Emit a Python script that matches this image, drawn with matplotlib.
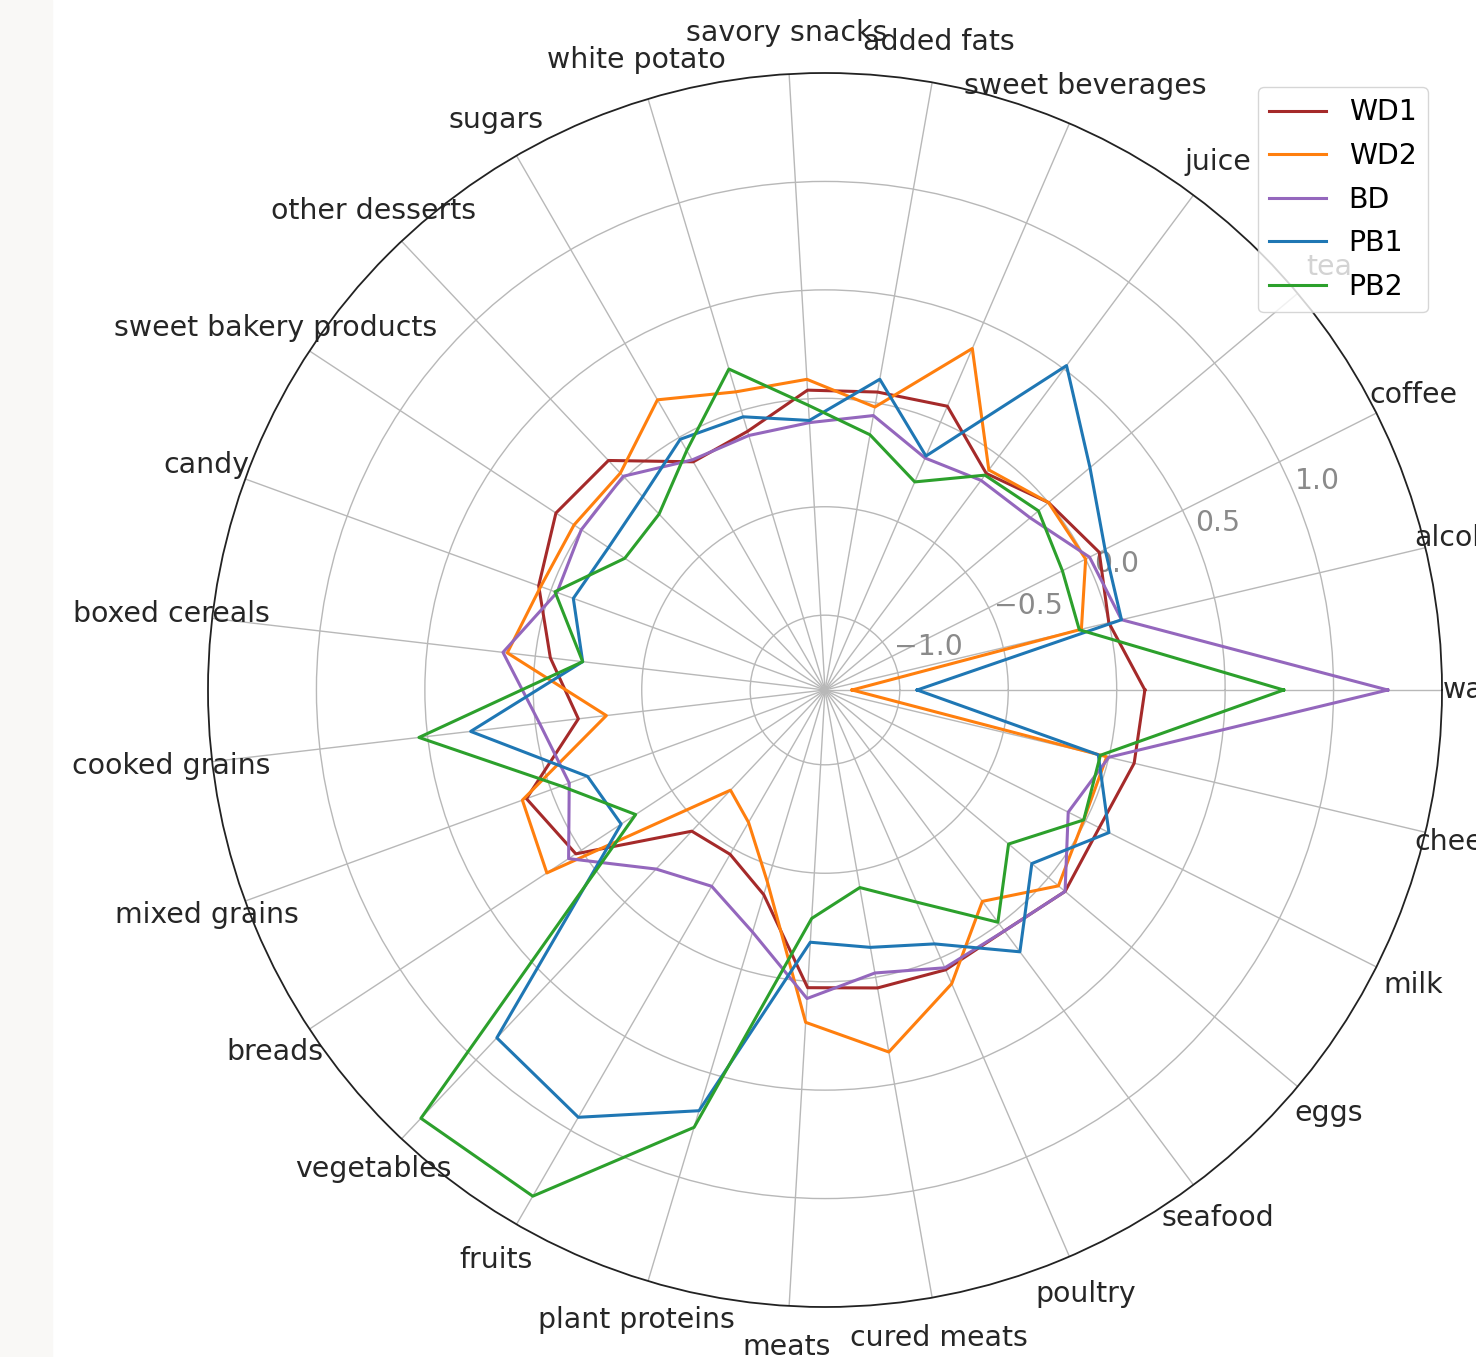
import numpy as np
from matplotlib import pyplot as plt

categories = ["water", "alcohol", "coffee", "tea", "juice", "sweet beverages",
              "added fats", "savory snacks", "white potato", "sugars",
              "other desserts", "sweet bakery products", "candy", "boxed cereals",
              "cooked grains", "mixed grains", "breads", "vegetables", "fruits",
              "plant proteins", "meats", "cured meats", "poultry", "seafood",
              "eggs", "milk", "cheese"]

wd1 = [0.13, 0.0, 0.07, 0.0, -0.10, 0.08, 0.05, 0.04, -0.10, -0.13,
       0.11, 0.14, 0.06, -0.07, -0.20, 0.12, 0.03, -0.45, -0.47,
       -0.36, 0.03, 0.05, 0.06, 0.04, 0.10, 0.07, 0.12]
wd2 = [-1.22, -0.13, 0.0, 0.0, -0.08, 0.37, -0.02, 0.09, 0.09, 0.20,
       0.03, 0.04, 0.05, 0.13, -0.33, 0.14, 0.19, -0.71, -0.64,
       -0.42, 0.19, 0.35, 0.13, -0.13, 0.06, -0.01, -0.01]
bd = [1.25, 0.06, 0.02, -0.11, -0.14, -0.18, -0.06, -0.11, -0.12, -0.12,
      0.01, 0.0, -0.03, 0.15, -0.02, -0.09, 0.07, -0.21, -0.30,
      -0.18, 0.08, -0.02, 0.05, 0.04, 0.10, -0.09, 0.0]
pb1 = [-0.92, 0.06, 0.10, 0.25, 0.52, -0.17, 0.11, -0.10, -0.03, -0.01,
       -0.12, -0.15, -0.11, -0.22, 0.30, -0.18, -0.22, 0.86, 0.93,
       0.68, -0.18, -0.14, -0.07, 0.16, -0.10, 0.12, -0.05]
pb2 = [0.77, -0.14, -0.12, -0.06, -0.11, -0.30, -0.15, -0.03, 0.20, -0.07,
       -0.23, -0.24, -0.02, -0.22, 0.54, -0.05, -0.30, 1.37, 1.35,
       0.76, -0.29, -0.42, -0.28, -0.01, -0.24, -0.01, -0.04]

series = [("WD1", wd1, "brown"), ("WD2", wd2, "tab:orange"), ("BD", bd, "tab:purple"),
          ("PB1", pb1, "tab:blue"), ("PB2", pb2, "tab:green")]

plt.rcParams["font.size"] = 20.4

angles = np.linspace(0, 2 * np.pi, len(categories), endpoint=False)
angles_closed = np.append(angles, angles[0])

fig = plt.figure(figsize=(14.76, 13.57), dpi=100)
fig.patches.append(plt.Rectangle((0, 0), 52 / 1476, 1, transform=fig.transFigure,
                                 color="#f9f8f6", zorder=0))
ax = fig.add_axes([208 / 1476, 50 / 1357, 1234 / 1476, 1234 / 1357], projection="polar")

for name, vals, col in series:
    ax.plot(angles_closed, vals + vals[:1], color=col, lw=2.2, label=name)

ax.set_xticks(angles)
ax.set_xticklabels(categories, color="#262626")
ax.tick_params(axis="x", pad=19)
ax.set_yticks([-1.0, -0.5, 0.0, 0.5, 1.0])
ax.tick_params(axis="y", labelcolor="#8a8a8a")
ax.set_ylim(-1.345, 1.5)
ax.grid(color="#b8b8b8", lw=1.0)
ax.spines["polar"].set_color("#222222")
ax.spines["polar"].set_linewidth(1.3)

ax.legend(loc="upper right", labelspacing=0.55)

fig.savefig("out.png", dpi=100)
